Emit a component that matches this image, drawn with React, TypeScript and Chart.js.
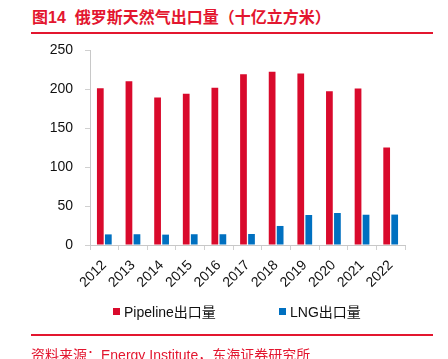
import React, { useEffect, useRef } from "react";
import { Chart, registerables } from "chart.js";

Chart.register(...registerables);

const categories = ["2012", "2013", "2014", "2015", "2016", "2017", "2018", "2019", "2020", "2021", "2022"];
const pipelineValues = [201, 210, 189, 194, 201.5, 219, 222, 220, 197, 200.5, 125];
const lngValues = [13.6, 13.8, 13.3, 13.8, 13.8, 14.1, 24.4, 38.5, 41, 38.8, 39];
const yTicks = [0, 50, 100, 150, 200, 250];
const seriesNames = ["Pipeline出口量", "LNG出口量"];
const titleText = "图14  俄罗斯天然气出口量（十亿立方米）";
const sourceText = "资料来源：Energy Institute，东海证券研究所";

const RED = "#D90A2C";
const BLUE = "#0070C0";
const TITLE_RED = "#E3162F";
const FONT = '"Liberation Sans", Arial, "Noto Sans CJK SC", sans-serif';

export default function App() {
  const canvasRef = useRef<HTMLCanvasElement | null>(null);

  useEffect(() => {
    if (!canvasRef.current) return;
    const chart = new Chart(canvasRef.current, {
      type: "bar",
      data: {
        labels: categories,
        datasets: [
          {
            label: seriesNames[0],
            data: pipelineValues,
            backgroundColor: RED,
            categoryPercentage: 0.56,
            barPercentage: 0.84,
          },
          {
            label: seriesNames[1],
            data: lngValues,
            backgroundColor: BLUE,
            categoryPercentage: 0.56,
            barPercentage: 0.84,
          },
        ],
      },
      options: {
        animation: false,
        responsive: false,
        maintainAspectRatio: false,
        events: [],
        layout: { padding: { left: 0, top: 50, right: 43, bottom: 54 } },
        plugins: {
          legend: { display: false },
          title: { display: false },
          tooltip: { enabled: false },
        },
        scales: {
          x: {
            grid: {
              display: true,
              drawOnChartArea: false,
              drawTicks: true,
              tickLength: 5,
              color: "#D0D0D0",
              offset: true,
            },
            border: { display: true, color: "#C8C8C8", width: 1 },
            ticks: {
              minRotation: 45,
              maxRotation: 45,
              color: "#111",
              font: { family: FONT, size: 14 },
              padding: 7,
            },
            afterFit: (scale: any) => {
              scale.height = 60;
            },
          },
          y: {
            min: 0,
            max: 250,
            afterBuildTicks: (scale: any) => {
              scale.ticks = yTicks.map((v) => ({ value: v }));
            },
            grid: {
              display: true,
              drawOnChartArea: false,
              drawTicks: true,
              tickLength: 5,
              color: "#D0D0D0",
            },
            border: { display: true, color: "#C8C8C8", width: 1 },
            ticks: {
              color: "#111",
              font: { family: FONT, size: 14 },
              padding: 12,
            },
            afterFit: (scale: any) => {
              scale.width = 90;
            },
          },
        },
      },
    });
    return () => chart.destroy();
  }, []);

  const abs = (s: React.CSSProperties): React.CSSProperties => ({ position: "absolute", ...s });

  return (
    <div style={abs({ left: 0, top: 0, width: 448, height: 359, overflow: "hidden", background: "#fff", fontFamily: FONT })}>
      <div
        style={abs({
          left: 32,
          top: 8,
          fontSize: 16,
          fontWeight: "bold",
          color: TITLE_RED,
          whiteSpace: "pre",
          lineHeight: "20px",
        })}
      >
        {titleText}
      </div>
      <div style={abs({ left: 31, top: 32, width: 402, height: 1.5, background: TITLE_RED })} />
      <canvas ref={canvasRef} width={448} height={359} style={abs({ left: 0, top: 0, width: 448, height: 359 })} />
      <div style={abs({ left: 113, top: 308, width: 7, height: 7, background: RED })} />
      <div style={abs({ left: 124, top: 303, fontSize: 14, lineHeight: "18px", color: "#111", whiteSpace: "pre" })}>
        {seriesNames[0]}
      </div>
      <div style={abs({ left: 279, top: 308, width: 7, height: 7, background: BLUE })} />
      <div style={abs({ left: 290, top: 303, fontSize: 14, lineHeight: "18px", color: "#111", whiteSpace: "pre" })}>
        {seriesNames[1]}
      </div>
      <div style={abs({ left: 31, top: 334, width: 402, height: 1.5, background: TITLE_RED })} />
      <div style={abs({ left: 31, top: 346, fontSize: 14, lineHeight: "18px", color: TITLE_RED, whiteSpace: "pre" })}>
        {sourceText}
      </div>
    </div>
  );
}
